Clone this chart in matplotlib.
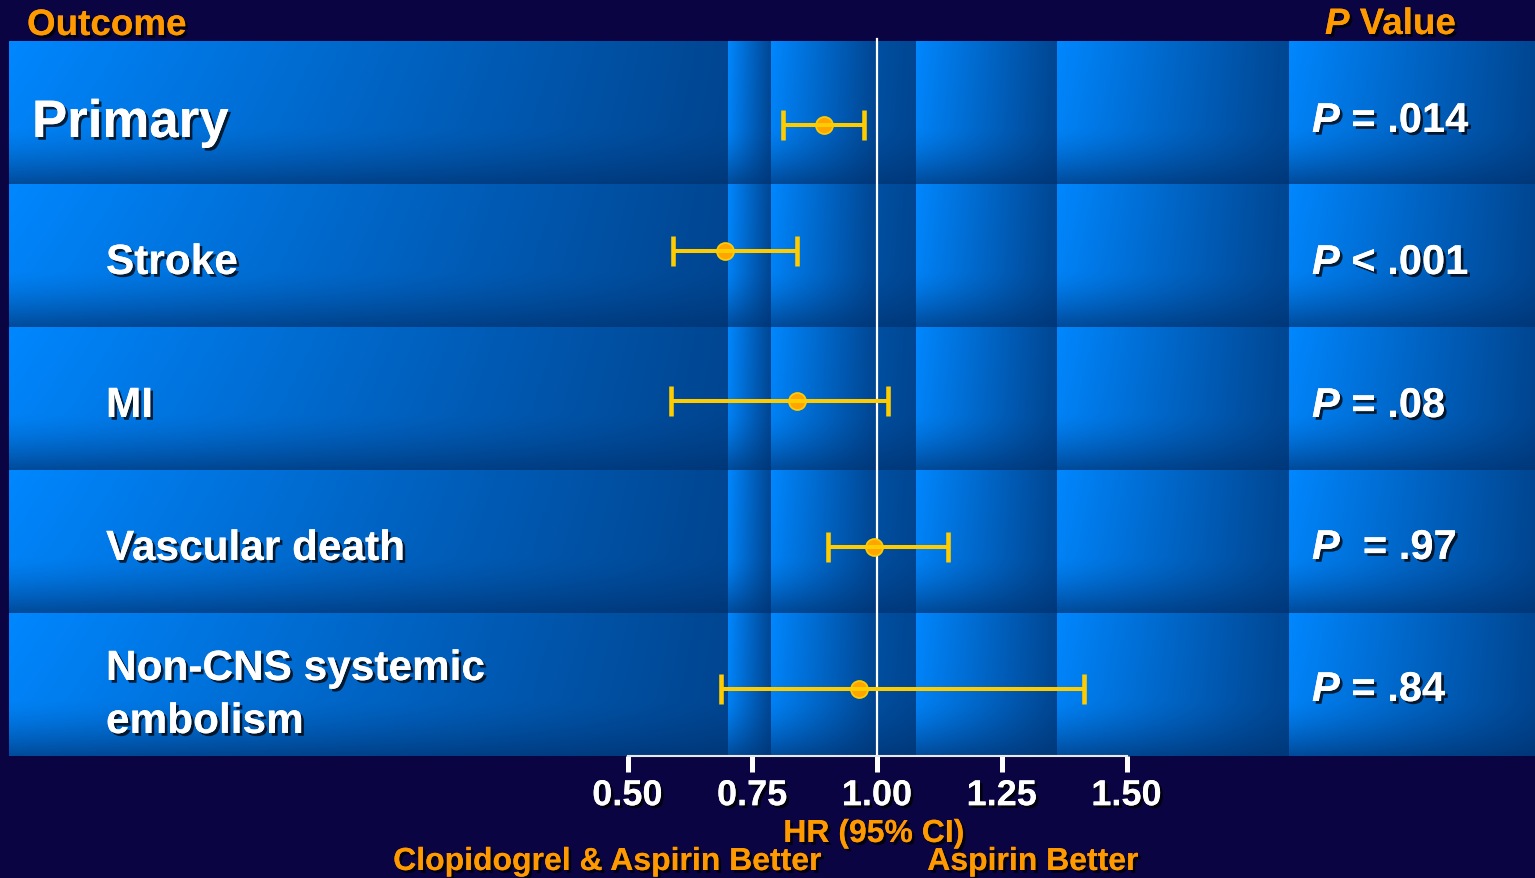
import numpy as np
import matplotlib
matplotlib.use("Agg")
import matplotlib.pyplot as plt
from matplotlib import patheffects as pe
from matplotlib.colors import to_rgb

# ---------------- data ----------------
outcomes = ["Primary", "Stroke", "MI", "Vascular death", "Non-CNS systemic\nembolism"]
hr = [0.894, 0.695, 0.840, 0.994, 0.964]
ci_low = [0.812, 0.591, 0.587, 0.902, 0.687]
ci_high = [0.974, 0.840, 1.022, 1.142, 1.415]
p_values = ["= .014", "< .001", "= .08", " = .97", "= .84"]
x_ticks = [0.50, 0.75, 1.00, 1.25, 1.50]
x_tick_labels = ["0.50", "0.75", "1.00", "1.25", "1.50"]

# ---------------- style ----------------
plt.rcParams['font.family'] = ['Liberation Sans', 'DejaVu Sans']
W, H, DPI = 1535, 879, 100
NAVY = "#0a0542"
ORANGE = "#FF9900"
YELLOW = "#FFCC00"
shadow = [pe.withSimplePatchShadow(offset=(2, -2), shadow_rgbFace='black', alpha=0.75), pe.Normal()]

fig = plt.figure(figsize=(W / DPI, H / DPI), dpi=DPI, facecolor=NAVY)

# ---------------- background tiles ----------------
bg = fig.add_axes([0, 0, 1, 1], zorder=0)
bg.set_xlim(0, W)
bg.set_ylim(H, 0)
bg.axis('off')
n = len(outcomes)
row_edges = np.linspace(42, 757, n + 1)
img = np.zeros((H, W, 3))
img[:] = to_rgb(NAVY)
tiles = [(9, 728, 0.0), (728, 771, 0.0), (771, 876, 0.0), (876, 916, 0.85),
         (916, 1057, 0.0), (1057, 1289, 0.0), (1289, 1535, 0.0)]
bright = np.array([0.0, 0.53, 1.0])
dark = np.array([0.0, 0.19, 0.43])
for r in range(n):
    y0, y1 = int(round(row_edges[r])), int(round(row_edges[r + 1]))
    v = (np.arange(y0, y1) - y0 + 0.5) / (y1 - y0)
    tv = 0.1 * v + 0.6 * np.clip((v - 0.6) / 0.4, 0, 1) ** 1.5
    for x0, x1, u0 in tiles:
        u = u0 + (1 - u0) * (np.arange(x0, x1) - x0 + 0.5) / (x1 - x0)
        f = (1 - 0.75 * u)[None, :] * (1 - tv)[:, None]
        img[y0:y1, x0:x1] = dark + (bright - dark) * f[..., None]
bg.imshow(img, extent=(0, W, H, 0), interpolation='bilinear', aspect='auto')

# ---------------- data axes ----------------
def px2v(p):
    return 1 + (p - 877) / 499.0

ax = fig.add_axes([9 / W, 1 - 757 / H, (W - 9) / W, (757 - 42) / H], zorder=1)
ax.patch.set_alpha(0)
ax.set_xlim(px2v(9), px2v(W))
ax.set_ylim(n, 0)
row_offsets = np.array([0.09, -0.03, 0.02, 0.04, 0.03])
ypos = np.arange(n) + 0.5 + row_offsets

hr_a = np.array(hr)
xerr = [hr_a - np.array(ci_low), np.array(ci_high) - hr_a]
ax.axvline(1.0, ymin=0, ymax=1 + 2 / 715, color='white', lw=1.6, zorder=2, clip_on=False)
ax.plot(hr, ypos, 'o', ms=12.2, mfc='#FFA500', mec=YELLOW, mew=1.3, zorder=3)
ax.errorbar(hr, ypos, xerr=xerr, fmt='none', ecolor=YELLOW, elinewidth=2.9,
            capsize=10.8, capthick=3.3, zorder=4)

for s in ['top', 'right', 'left']:
    ax.spines[s].set_visible(False)
ax.spines['bottom'].set_bounds(0.5, 1.5)
ax.spines['bottom'].set_color('#e8e8e8')
ax.spines['bottom'].set_linewidth(1.5)
ax.set_yticks([])
ax.set_xticks(x_ticks, x_tick_labels)
ax.tick_params(axis='x', direction='out', length=11.5, width=3.6, color='white',
               pad=4.5, labelsize=26, labelcolor='white')
for lab in ax.get_xticklabels():
    lab.set_fontweight('bold')
    lab.set_path_effects(shadow)

ax.set_xlabel("HR (95% CI)", color=ORANGE, fontsize=23, fontweight='bold')
ax.xaxis.label.set_path_effects(shadow)
ax.xaxis.label.set_va('baseline')
ax.xaxis.set_label_coords((874 - 9) / (W - 9), (757 - 843) / 715)

# ---------------- texts ----------------
bg.text(27, 36, "Outcome", color=ORANGE, fontsize=26.5, fontweight='bold',
        va='baseline', path_effects=shadow)
ph = bg.text(1325, 35, "P", color=ORANGE, fontsize=26.5, fontweight='bold', style='italic',
             va='baseline', path_effects=shadow)
bg.annotate(" Value", xy=(1, 0), xycoords=ph, color=ORANGE, fontsize=26.5, fontweight='bold',
            va='bottom', ha='left', path_effects=shadow)

for i, lab in enumerate(outcomes):
    top = row_edges[i]
    lines = lab.split('\n')
    size = 38 if i == 0 else 30.5
    x = 32 if i == 0 else 106
    if len(lines) == 1:
        bg.text(x, top + (96 if i == 0 else 90), lab, color='white', fontsize=size,
                fontweight='bold', va='baseline', path_effects=shadow)
    else:
        for k, line in enumerate(lines):
            bg.text(x, top + 67 + 53 * k, line, color='white', fontsize=size,
                    fontweight='bold', va='baseline', path_effects=shadow)

p_base = [91, 90, 90, 89, 88]
for i, pv in enumerate(p_values):
    t = bg.text(1312, row_edges[i] + p_base[i], "P", color='white', fontsize=30,
                fontweight='bold', style='italic', va='baseline', path_effects=shadow)
    bg.annotate(" " + pv, xy=(1, 0), xycoords=t, color='white', fontsize=30,
                fontweight='bold', va='bottom', ha='left', path_effects=shadow)

bg.text(607.5, 871, "Clopidogrel & Aspirin Better", color=ORANGE, fontsize=23,
        fontweight='bold', ha='center', va='baseline', path_effects=shadow)
bg.text(1033, 871, "Aspirin Better", color=ORANGE, fontsize=23,
        fontweight='bold', ha='center', va='baseline', path_effects=shadow)

fig.savefig('out.png', dpi=DPI, facecolor=NAVY)
